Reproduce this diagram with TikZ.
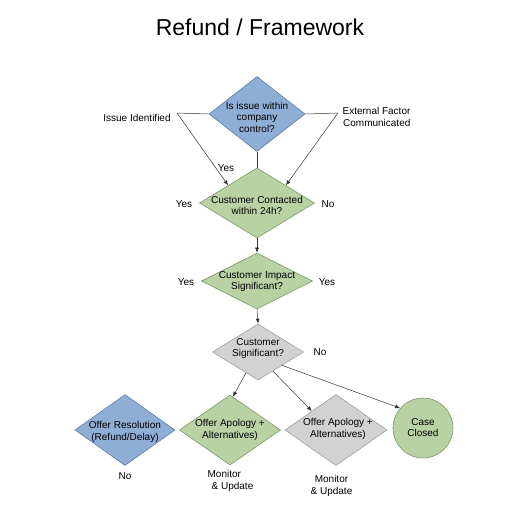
\documentclass[tikz,border=0pt]{standalone}
\usepackage{fontspec}
\setmainfont{Liberation Sans}
\usetikzlibrary{shapes.geometric,arrows.meta}

\definecolor{bluefill}{RGB}{143,174,214}
\definecolor{blueline}{RGB}{92,126,170}
\definecolor{greenfill}{RGB}{184,210,164}
\definecolor{greenline}{RGB}{122,152,102}
\definecolor{grayfill}{RGB}{210,210,210}
\definecolor{grayline}{RGB}{158,158,158}

\tikzset{
  dia/.style={diamond,draw,inner sep=0pt,line width=0.6pt},
  bluedia/.style={dia,fill=bluefill,draw=blueline},
  greendia/.style={dia,fill=greenfill,draw=greenline},
  graydia/.style={dia,fill=grayfill,draw=grayline},
  txt/.style={align=center,inner sep=0pt},
  link/.style={draw=black!80,line width=0.5pt},
  arr/.style={link,-{Latex[length=5pt,width=4pt]}}
}

\begin{document}
\begin{tikzpicture}[x=1pt,y=-1pt,font=\fontsize{10}{11.5}\selectfont]
            \useasboundingbox (0,0) rectangle (512,512);
            \node[anchor=base,inner sep=0pt,font=\fontsize{23}{26}\selectfont] (title) at (260,35) {Refund / Framework};

            % diamonds
            \node[bluedia,minimum width=96pt,minimum height=75pt] (control) at (257,114) {};
            \node[greendia,minimum width=115pt,minimum height=70pt] (contact) at (257,203) {};
            \node[greendia,minimum width=111pt,minimum height=56pt] (impact) at (257,281) {};
            \node[graydia,minimum width=91pt,minimum height=56pt] (signif) at (258,352) {};
            \node[bluedia,minimum width=100pt,minimum height=71pt] (resol) at (125,430) {};
            \node[greendia,minimum width=101pt,minimum height=70pt] (apolA) at (230,430) {};
            \node[graydia,minimum width=102pt,minimum height=71pt] (apolB) at (336,430) {};
            \node[circle,draw=greenline,fill=greenfill,line width=0.6pt,minimum size=60pt,inner sep=0pt] (closed) at (423,428) {};

            % texts in the shapes
            \node[txt] (controlT) at (257,117) {Is issue within\\company\\control?};
            \node[txt] (contactT) at (257,205.5) {Customer Contacted\\within 24h?};
            \node[txt] (impactT) at (257,281.5) {Customer Impact\\Significant?};
            \node[txt] (signifT) at (258,348.5) {Customer\\Significant?};
            \node[txt] (resolT) at (125,432) {Offer Resolution\\(Refund/Delay)};
            \node[txt] (apolAT) at (230,430) {Offer Apology +\\Alternatives)};
            \node[txt] (apolBT) at (338,429) {Offer Apology +\\Alternatives)};
            \node[txt] (closedT) at (423,427.5) {Case\\Closed};

            % side texts
            \node[txt] (issue) at (137,118) {Issue Identified};
            \node[txt,align=right] (extern) at (376.5,117) {External Factor\\Communicated};
            \coordinate (issueJ) at (177,113);
            \coordinate (externJ) at (338,113);
            \node[txt] (yes1) at (226,168) {Yes};
            \node[txt] (yes2) at (184,204) {Yes};
            \node[txt] (no2) at (328,204) {No};
            \node[txt] (yes3) at (186,282) {Yes};
            \node[txt] (yes4) at (327,282) {Yes};
            \node[txt] (no4) at (320,352) {No};
            \node[txt] (no5) at (125,476) {No};
            \node[txt,align=left] (monA) at (230.5,481) {Monitor\\\hspace{4pt}\& Update};
            \node[txt] (monB) at (331.5,486) {Monitor\\\& Update};

            % connectors
            \draw[link] (issueJ) -- (control.west);
            \draw[link] (externJ) -- (control.east);
            \draw[arr] (issueJ) -- (contact.north west);
            \draw[arr] (externJ) -- (contact.north east);
            \draw[link] (control.south) -- (contact.north);
            \draw[arr] (contact.south) -- (impact.north);
            \draw[arr] (impact.south) -- (signif.north);
            \draw[arr] (signif.-120) -- (apolA.85);
            \draw[arr] (signif.-52) -- (apolB.142);
            \draw[arr] (signif.-29) -- (closed.139);
        \end{tikzpicture}
\end{document}
